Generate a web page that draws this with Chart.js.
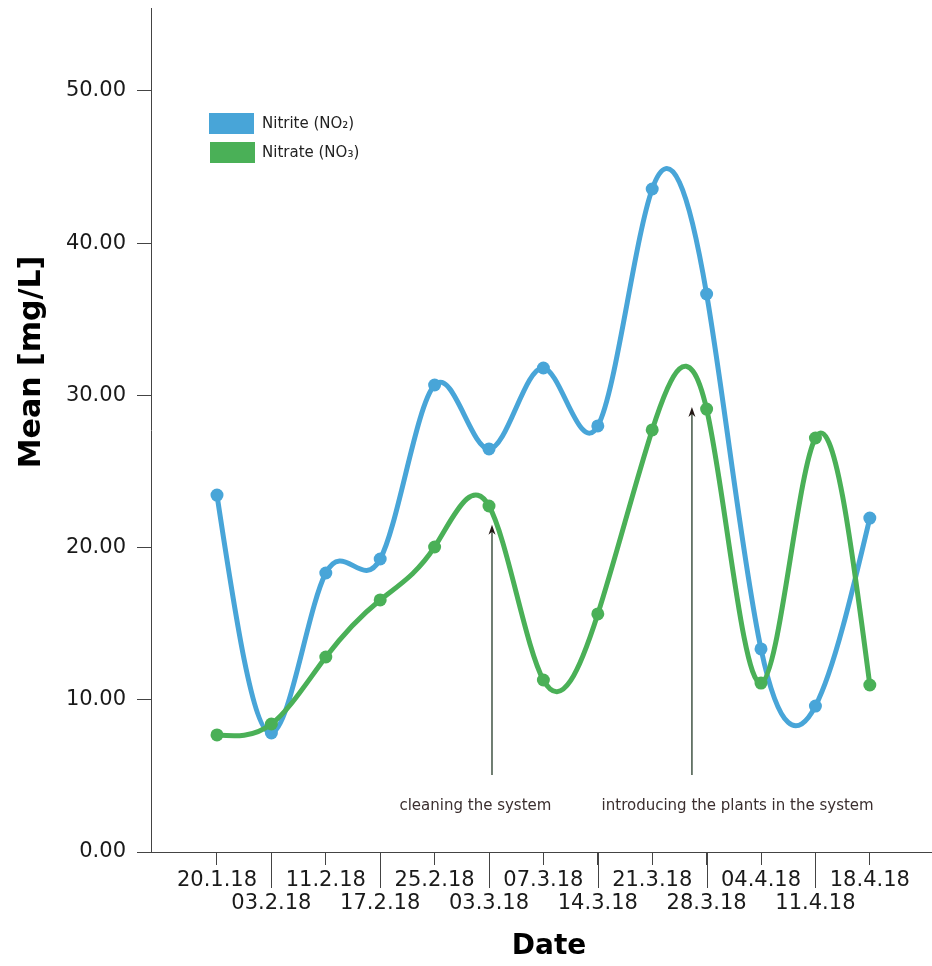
<!DOCTYPE html>
<html>
<head>
<meta charset="utf-8">
<script src="https://cdn.jsdelivr.net/npm/chart.js@4/dist/chart.umd.min.js"></script>
<style>
  html, body { margin: 0; padding: 0; background: #ffffff; }
  canvas { display: block; }
</style>
</head>
<body>
<canvas id="c" width="932" height="966"></canvas>
<script>
// ---- data ----
const dates = ['20.1.18','03.2.18','11.2.18','17.2.18','25.2.18','03.3.18','07.3.18','14.3.18','21.3.18','28.3.18','04.4.18','11.4.18','18.4.18'];
const nitrite = [23.45, 7.82, 18.33, 19.25, 30.68, 26.48, 31.80, 27.99, 43.56, 36.66, 13.34, 9.59, 21.94];
const nitrate = [7.69, 8.41, 12.81, 16.56, 20.04, 22.73, 11.30, 15.64, 27.73, 29.10, 11.10, 27.20, 10.97];
const yTicks = [0, 10, 20, 30, 40, 50];
const seriesNames = ['Nitrite (NO\u2082)', 'Nitrate (NO\u2083)'];
const notes = ['cleaning the system', 'introducing the plants in the system'];
// annotation arrows: x in category units, from y=bottom up to y=top (data units)
const noteArrowX = [5.055, 8.73];
const noteArrowTop = [21.5, 29.24];
const noteArrowBottom = [5.06, 5.06];
const noteTextX = [4.75, 9.57];
const noteTextY = 3.02;

const BLUE = '#48a5d8';
const GREEN = '#4ab057';
const AXIS = '#444444';
const FONT = "'DejaVu Sans', Verdana, sans-serif";

const toXY = arr => arr.map((v, i) => ({x: i, y: v}));

// natural cubic spline slopes (uniform spacing) for smooth curves through the data
function naturalSlopes(y) {
  const n = y.length;
  const M = new Array(n).fill(0);
  if (n > 2) {
    const a = [], b = [], c = [], d = [];
    for (let i = 1; i < n - 1; i++) {
      a.push(1); b.push(4); c.push(1);
      d.push(6 * (y[i + 1] - 2 * y[i] + y[i - 1]));
    }
    const m = d.length;
    for (let i = 1; i < m; i++) {
      const w = a[i] / b[i - 1];
      b[i] -= w * c[i - 1];
      d[i] -= w * d[i - 1];
    }
    const sol = new Array(m);
    sol[m - 1] = d[m - 1] / b[m - 1];
    for (let i = m - 2; i >= 0; i--) sol[i] = (d[i] - c[i] * sol[i + 1]) / b[i];
    for (let i = 0; i < m; i++) M[i + 1] = sol[i];
  }
  const s = [];
  for (let i = 0; i < n; i++) {
    if (i < n - 1) s.push((y[i + 1] - y[i]) - (2 * M[i] + M[i + 1]) / 6);
    else s.push((y[i] - y[i - 1]) + (M[i - 1] + 2 * M[i]) / 6);
  }
  return s;
}

const splinePlugin = {
  id: 'spline',
  beforeDatasetsDraw(chart) {
    const xs = chart.scales.x, ys = chart.scales.y;
    chart.data.datasets.forEach((ds, di) => {
      const meta = chart.getDatasetMeta(di);
      if (!meta.dataset) return;
      meta.dataset.updateControlPoints(chart.chartArea, 'x');
      const vals = ds.data.map(p => p.y);
      const sl = naturalSlopes(vals);
      meta.data.forEach((pt, i) => {
        pt.cp1x = xs.getPixelForValue(i - 1 / 3);
        pt.cp1y = ys.getPixelForValue(vals[i] - sl[i] / 3);
        pt.cp2x = xs.getPixelForValue(i + 1 / 3);
        pt.cp2y = ys.getPixelForValue(vals[i] + sl[i] / 3);
      });
      meta.dataset._path = undefined;
    });
  }
};

const decor = {
  id: 'decor',
  afterDraw(chart) {
    const ctx = chart.ctx;
    const xs = chart.scales.x, ys = chart.scales.y;
    const y0 = Math.round(ys.getPixelForValue(0));
    ctx.save();
    // extend x axis to the left to meet the 0 tick
    ctx.strokeStyle = AXIS; ctx.lineWidth = 1;
    ctx.beginPath();
    ctx.moveTo(chart.chartArea.left - 14, y0 + 0.5);
    ctx.lineTo(chart.chartArea.left, y0 + 0.5);
    ctx.stroke();
    // long ticks for second-row labels
    dates.forEach((d, i) => {
      if (i % 2 === 1) {
        const px = Math.round(xs.getPixelForValue(i)) + 0.5;
        ctx.beginPath();
        ctx.moveTo(px, y0);
        ctx.lineTo(px, y0 + 36);
        ctx.stroke();
      }
    });
    // annotation arrows
    noteArrowX.forEach((xv, i) => {
      const px = xs.getPixelForValue(xv);
      const pt = ys.getPixelForValue(noteArrowTop[i]);
      const pb = ys.getPixelForValue(noteArrowBottom[i]);
      ctx.strokeStyle = '#4d5f50'; ctx.lineWidth = 1.6;
      ctx.beginPath(); ctx.moveTo(px, pb); ctx.lineTo(px, pt + 4); ctx.stroke();
      ctx.fillStyle = '#231815';
      ctx.beginPath();
      ctx.moveTo(px, pt);
      ctx.lineTo(px - 3.5, pt + 10);
      ctx.lineTo(px, pt + 7);
      ctx.lineTo(px + 3.5, pt + 10);
      ctx.closePath(); ctx.fill();
    });
    // annotation text
    ctx.fillStyle = '#3b2f2f';
    ctx.font = '15px ' + FONT;
    ctx.textAlign = 'center'; ctx.textBaseline = 'middle';
    notes.forEach((t, i) => {
      ctx.fillText(t, xs.getPixelForValue(noteTextX[i]), ys.getPixelForValue(noteTextY));
    });
    // legend
    const colors = [BLUE, GREEN];
    const boxes = [[209, 113], [210, 142]];
    ctx.font = '15px ' + FONT;
    ctx.textAlign = 'left';
    seriesNames.forEach((n, i) => {
      ctx.fillStyle = colors[i];
      ctx.fillRect(boxes[i][0], boxes[i][1], 45, 21);
      ctx.fillStyle = '#222222';
      ctx.fillText(n, 262, boxes[i][1] + 11);
    });
    // axis titles
    ctx.fillStyle = '#000000';
    ctx.font = 'bold 28px ' + FONT;
    ctx.textAlign = 'center'; ctx.textBaseline = 'middle';
    ctx.fillText('Date', 549, 947);
    ctx.translate(32, 362);
    ctx.rotate(-Math.PI / 2);
    ctx.font = 'bold 30px ' + FONT;
    ctx.fillText('Mean [mg/L]', 0, 0);
    ctx.restore();
  }
};

new Chart(document.getElementById('c'), {
  type: 'line',
  data: {
    datasets: [
      { label: seriesNames[0], data: toXY(nitrite), borderColor: BLUE, backgroundColor: BLUE,
        pointBackgroundColor: BLUE, pointBorderWidth: 0, pointRadius: 6.5, borderWidth: 5, tension: 0.5, order: 1, clip: false },
      { label: seriesNames[1], data: toXY(nitrate), borderColor: GREEN, backgroundColor: GREEN,
        pointBackgroundColor: GREEN, pointBorderWidth: 0, pointRadius: 6.5, borderWidth: 5, tension: 0.5, order: 0, clip: false }
    ]
  },
  options: {
    responsive: false,
    devicePixelRatio: 1,
    animation: false,
    layout: { autoPadding: false, padding: { top: 8, right: 0, left: 0, bottom: 0 } },
    plugins: { legend: { display: false }, tooltip: { enabled: false } },
    scales: {
      x: {
        type: 'linear',
        min: -1.213,
        max: 13.143,
        afterBuildTicks: s => { s.ticks = dates.map((d, i) => ({value: i})); },
        afterFit: s => { s.height = 114; s.paddingLeft = 0; s.paddingRight = 0; },
        border: { display: true, color: AXIS, width: 1 },
        grid: { drawOnChartArea: false, drawTicks: true, tickLength: 13, color: AXIS },
        ticks: {
          autoSkip: false, maxRotation: 0, minRotation: 0,
          padding: 5,
          color: '#1a1a1a',
          font: { family: FONT, size: 21, lineHeight: 1.05 },
          callback: (v) => {
            const i = Math.round(v);
            return i % 2 === 0 ? [dates[i], ''] : ['', dates[i]];
          }
        }
      },
      y: {
        type: 'linear',
        min: 0,
        max: 55.45,
        afterBuildTicks: s => { s.ticks = yTicks.map(v => ({value: v})); },
        afterFit: s => { s.width = 151; s.paddingTop = 0; s.paddingBottom = 0; },
        border: { display: true, color: AXIS, width: 1 },
        grid: { drawOnChartArea: false, drawTicks: true, tickLength: 14, color: AXIS },
        ticks: {
          padding: 11,
          color: '#1a1a1a',
          font: { family: FONT, size: 21 },
          callback: v => Number(v).toFixed(2)
        }
      }
    }
  },
  plugins: [splinePlugin, decor]
});
</script>
</body>
</html>
